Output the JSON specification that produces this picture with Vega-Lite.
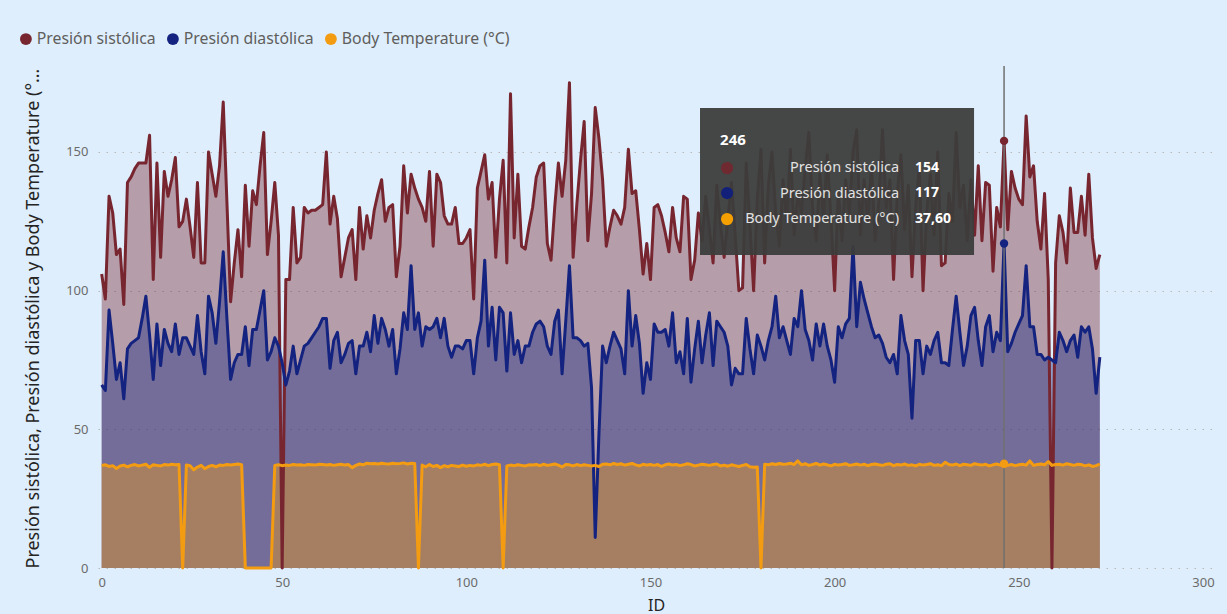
{
  "$schema": "https://vega.github.io/schema/vega-lite/v6.json",
  "width": 1116,
  "height": 502,
  "autosize": {"type": "none"},
  "padding": {"left": 98, "top": 66, "right": 13, "bottom": 46},
  "background": "#DEEEFC",
  "config": {
    "view": {"stroke": null},
    "font": "Noto Sans",
    "locale": {"number": {"decimal": ",", "thousands": ".", "grouping": [3], "currency": ["", " €"]}},
    "axis": {"domain": false, "ticks": false, "labelColor": "#6B6B6B", "labelFontSize": 13, "titleColor": "#252423", "titleFontWeight": "normal", "titleFontSize": 16},
    "axisY": {"grid": true, "gridColor": "#B8B8B8", "gridDash": [1.5, 6.5], "gridWidth": 1, "labelPadding": 10, "titlePadding": 23, "titleAnchor": "start", "titleLimit": 500, "titleFontSize": 18},
    "axisX": {"grid": false, "labelPadding": 8, "titlePadding": 8},
    "legend": {"orient": "none", "legendX": -80, "legendY": -35, "direction": "horizontal", "symbolType": "circle", "symbolSize": 140, "symbolOpacity": 1, "symbolStrokeWidth": 0, "labelFontSize": 15.8, "labelLimit": 400, "labelColor": "#605E5C", "labelOffset": 3, "columnPadding": 9, "title": null}
  },
  "datasets": {
    "vitals": [
      {"ID":1,"s":106,"d":66,"t":37.0},{"ID":2,"s":97,"d":64,"t":37.2},{"ID":3,"s":134,"d":93,"t":36.6},{"ID":4,"s":128,"d":81,"t":36.9},{"ID":5,"s":113,"d":68,"t":35.9},
      {"ID":6,"s":115,"d":74,"t":36.8},{"ID":7,"s":95,"d":61,"t":37.1},{"ID":8,"s":139,"d":79,"t":36.5},{"ID":9,"s":141,"d":81,"t":37.0},{"ID":10,"s":144,"d":82,"t":37.3},
      {"ID":11,"s":146,"d":83,"t":36.8},{"ID":12,"s":146,"d":90,"t":37.1},{"ID":13,"s":146,"d":98,"t":37.4},{"ID":14,"s":156,"d":84,"t":36.3},{"ID":15,"s":104,"d":68,"t":37.2},
      {"ID":16,"s":146,"d":88,"t":37.0},{"ID":17,"s":112,"d":73,"t":36.8},{"ID":18,"s":143,"d":86,"t":37.3},{"ID":19,"s":134,"d":81,"t":37.1},{"ID":20,"s":140,"d":78,"t":37.4},
      {"ID":21,"s":148,"d":88,"t":37.2},{"ID":22,"s":123,"d":77,"t":37.3},{"ID":23,"s":125,"d":83,"t":0},{"ID":24,"s":133,"d":83,"t":37.1},{"ID":25,"s":123,"d":80,"t":36.9},
      {"ID":26,"s":112,"d":77,"t":35.4},{"ID":27,"s":139,"d":91,"t":36.4},{"ID":28,"s":110,"d":78,"t":37.0},{"ID":29,"s":110,"d":70,"t":35.8},{"ID":30,"s":150,"d":98,"t":36.6},
      {"ID":31,"s":142,"d":92,"t":37.0},{"ID":32,"s":134,"d":81,"t":36.5},{"ID":33,"s":145,"d":96,"t":37.1},{"ID":34,"s":168,"d":114,"t":37.0},{"ID":35,"s":132,"d":90,"t":37.3},
      {"ID":36,"s":96,"d":68,"t":37.1},{"ID":37,"s":110,"d":74,"t":37.3},{"ID":38,"s":122,"d":77,"t":37.5},{"ID":39,"s":105,"d":77,"t":37.2},{"ID":40,"s":138,"d":87,"t":0},
      {"ID":41,"s":116,"d":73,"t":0},{"ID":42,"s":136,"d":86,"t":0},{"ID":43,"s":131,"d":86,"t":0},{"ID":44,"s":145,"d":93,"t":0},{"ID":45,"s":157,"d":100,"t":0},
      {"ID":46,"s":113,"d":75,"t":0},{"ID":47,"s":125,"d":78,"t":0},{"ID":48,"s":139,"d":83,"t":37.0},{"ID":49,"s":120,"d":80,"t":37.2},{"ID":50,"s":0,"d":74,"t":36.9},
      {"ID":51,"s":104,"d":66,"t":37.1},{"ID":52,"s":104,"d":71,"t":37.0},{"ID":53,"s":130,"d":80,"t":37.3},{"ID":54,"s":110,"d":70,"t":37.1},{"ID":55,"s":112,"d":75,"t":37.2},
      {"ID":56,"s":130,"d":80,"t":37.0},{"ID":57,"s":128,"d":81,"t":37.3},{"ID":58,"s":129,"d":83,"t":37.2},{"ID":59,"s":129,"d":85,"t":37.1},{"ID":60,"s":130,"d":87,"t":37.4},
      {"ID":61,"s":131,"d":90,"t":37.3},{"ID":62,"s":150,"d":90,"t":37.1},{"ID":63,"s":124,"d":72,"t":37.3},{"ID":64,"s":134,"d":82,"t":37.0},{"ID":65,"s":126,"d":85,"t":37.2},
      {"ID":66,"s":105,"d":74,"t":37.4},{"ID":67,"s":112,"d":77,"t":37.1},{"ID":68,"s":119,"d":81,"t":37.3},{"ID":69,"s":122,"d":82,"t":36.2},{"ID":70,"s":104,"d":70,"t":37.0},
      {"ID":71,"s":130,"d":80,"t":37.5},{"ID":72,"s":115,"d":80,"t":37.2},{"ID":73,"s":127,"d":85,"t":37.8},{"ID":74,"s":119,"d":78,"t":37.6},{"ID":75,"s":129,"d":91,"t":37.7},
      {"ID":76,"s":135,"d":81,"t":37.5},{"ID":77,"s":140,"d":90,"t":37.8},{"ID":78,"s":125,"d":86,"t":37.6},{"ID":79,"s":130,"d":80,"t":37.5},{"ID":80,"s":131,"d":86,"t":37.8},
      {"ID":81,"s":105,"d":70,"t":37.6},{"ID":82,"s":116,"d":79,"t":37.7},{"ID":83,"s":145,"d":92,"t":37.9},{"ID":84,"s":128,"d":86,"t":37.5},{"ID":85,"s":142,"d":109,"t":37.8},
      {"ID":86,"s":137,"d":86,"t":37.7},{"ID":87,"s":133,"d":92,"t":0},{"ID":88,"s":130,"d":80,"t":37.1},{"ID":89,"s":125,"d":87,"t":36.5},{"ID":90,"s":143,"d":86,"t":37.3},
      {"ID":91,"s":116,"d":87,"t":36.6},{"ID":92,"s":142,"d":90,"t":37.0},{"ID":93,"s":139,"d":83,"t":36.2},{"ID":94,"s":127,"d":90,"t":36.9},{"ID":95,"s":124,"d":80,"t":36.5},
      {"ID":96,"s":124,"d":76,"t":37.0},{"ID":97,"s":130,"d":80,"t":36.8},{"ID":98,"s":117,"d":80,"t":36.6},{"ID":99,"s":117,"d":79,"t":37.1},{"ID":100,"s":119,"d":82,"t":36.7},
      {"ID":101,"s":122,"d":82,"t":37.0},{"ID":102,"s":97,"d":70,"t":36.8},{"ID":103,"s":137,"d":83,"t":37.2},{"ID":104,"s":143,"d":89,"t":37.0},{"ID":105,"s":149,"d":111,"t":37.4},
      {"ID":106,"s":133,"d":80,"t":36.9},{"ID":107,"s":139,"d":94,"t":37.3},{"ID":108,"s":112,"d":75,"t":37.5},{"ID":109,"s":133,"d":94,"t":37.2},{"ID":110,"s":147,"d":92,"t":0},
      {"ID":111,"s":110,"d":71,"t":36.8},{"ID":112,"s":171,"d":92,"t":37.1},{"ID":113,"s":119,"d":77,"t":36.9},{"ID":114,"s":142,"d":82,"t":37.2},{"ID":115,"s":116,"d":74,"t":37.0},
      {"ID":116,"s":115,"d":80,"t":36.8},{"ID":117,"s":123,"d":80,"t":37.2},{"ID":118,"s":130,"d":85,"t":37.1},{"ID":119,"s":141,"d":88,"t":37.3},{"ID":120,"s":145,"d":89,"t":36.9},
      {"ID":121,"s":146,"d":87,"t":37.4},{"ID":122,"s":117,"d":80,"t":37.0},{"ID":123,"s":111,"d":77,"t":37.2},{"ID":124,"s":130,"d":89,"t":37.5},{"ID":125,"s":146,"d":93,"t":37.1},
      {"ID":126,"s":134,"d":70,"t":36.4},{"ID":127,"s":147,"d":89,"t":37.3},{"ID":128,"s":175,"d":109,"t":37.2},{"ID":129,"s":112,"d":83,"t":36.8},{"ID":130,"s":131,"d":83,"t":37.3},
      {"ID":131,"s":147,"d":82,"t":36.9},{"ID":132,"s":161,"d":80,"t":37.2},{"ID":133,"s":118,"d":81,"t":37.0},{"ID":134,"s":135,"d":65,"t":36.8},{"ID":135,"s":166,"d":11,"t":37.0},
      {"ID":136,"s":155,"d":48,"t":36.6},{"ID":137,"s":140,"d":80,"t":37.4},{"ID":138,"s":116,"d":74,"t":37.5},{"ID":139,"s":123,"d":80,"t":37.2},{"ID":140,"s":129,"d":85,"t":37.7},
      {"ID":141,"s":127,"d":82,"t":37.3},{"ID":142,"s":124,"d":79,"t":37.6},{"ID":143,"s":130,"d":70,"t":37.1},{"ID":144,"s":151,"d":100,"t":37.4},{"ID":145,"s":135,"d":80,"t":37.7},
      {"ID":146,"s":136,"d":91,"t":37.2},{"ID":147,"s":122,"d":81,"t":36.8},{"ID":148,"s":106,"d":63,"t":37.4},{"ID":149,"s":117,"d":74,"t":37.1},{"ID":150,"s":104,"d":68,"t":37.3},
      {"ID":151,"s":130,"d":88,"t":37.0},{"ID":152,"s":131,"d":85,"t":37.3},{"ID":153,"s":127,"d":85,"t":36.6},{"ID":154,"s":121,"d":86,"t":37.2},{"ID":155,"s":114,"d":80,"t":37.5},
      {"ID":156,"s":130,"d":92,"t":37.1},{"ID":157,"s":119,"d":74,"t":37.3},{"ID":158,"s":114,"d":78,"t":36.9},{"ID":159,"s":134,"d":70,"t":37.2},{"ID":160,"s":133,"d":90,"t":37.6},
      {"ID":161,"s":104,"d":67,"t":37.3},{"ID":162,"s":111,"d":79,"t":36.8},{"ID":163,"s":128,"d":89,"t":37.1},{"ID":164,"s":118,"d":74,"t":37.4},{"ID":165,"s":134,"d":84,"t":37.2},
      {"ID":166,"s":122,"d":92,"t":37.0},{"ID":167,"s":110,"d":73,"t":37.3},{"ID":168,"s":138,"d":89,"t":37.5},{"ID":169,"s":124,"d":87,"t":36.8},{"ID":170,"s":112,"d":85,"t":37.1},
      {"ID":171,"s":126,"d":80,"t":36.7},{"ID":172,"s":139,"d":66,"t":37.2},{"ID":173,"s":120,"d":72,"t":36.9},{"ID":174,"s":100,"d":70,"t":36.6},{"ID":175,"s":101,"d":70,"t":37.0},
      {"ID":176,"s":146,"d":90,"t":37.3},{"ID":177,"s":124,"d":79,"t":36.5},{"ID":178,"s":100,"d":70,"t":36.3},{"ID":179,"s":133,"d":84,"t":36.4},{"ID":180,"s":151,"d":80,"t":0},
      {"ID":181,"s":110,"d":75,"t":37.4},{"ID":182,"s":138,"d":82,"t":37.2},{"ID":183,"s":150,"d":87,"t":37.6},{"ID":184,"s":128,"d":98,"t":37.3},{"ID":185,"s":116,"d":83,"t":37.7},
      {"ID":186,"s":140,"d":87,"t":37.4},{"ID":187,"s":125,"d":82,"t":37.5},{"ID":188,"s":151,"d":77,"t":37.8},{"ID":189,"s":120,"d":90,"t":37.3},{"ID":190,"s":135,"d":87,"t":38.6},
      {"ID":191,"s":128,"d":100,"t":37.2},{"ID":192,"s":144,"d":86,"t":37.6},{"ID":193,"s":157,"d":82,"t":37.0},{"ID":194,"s":130,"d":75,"t":37.3},{"ID":195,"s":118,"d":88,"t":37.7},
      {"ID":196,"s":142,"d":80,"t":37.1},{"ID":197,"s":126,"d":88,"t":37.5},{"ID":198,"s":149,"d":80,"t":37.2},{"ID":199,"s":126,"d":75,"t":36.8},{"ID":200,"s":100,"d":67,"t":37.4},
      {"ID":201,"s":136,"d":87,"t":37.1},{"ID":202,"s":118,"d":83,"t":37.3},{"ID":203,"s":140,"d":88,"t":37.6},{"ID":204,"s":128,"d":90,"t":37.0},{"ID":205,"s":150,"d":116,"t":37.2},
      {"ID":206,"s":158,"d":87,"t":37.5},{"ID":207,"s":120,"d":103,"t":37.1},{"ID":208,"s":140,"d":97,"t":37.4},{"ID":209,"s":125,"d":92,"t":36.9},{"ID":210,"s":145,"d":87,"t":37.3},
      {"ID":211,"s":118,"d":83,"t":37.5},{"ID":212,"s":132,"d":84,"t":37.2},{"ID":213,"s":158,"d":81,"t":37.0},{"ID":214,"s":130,"d":76,"t":37.4},{"ID":215,"s":140,"d":74,"t":37.6},
      {"ID":216,"s":104,"d":77,"t":36.9},{"ID":217,"s":135,"d":70,"t":37.3},{"ID":218,"s":149,"d":91,"t":37.1},{"ID":219,"s":122,"d":82,"t":37.5},{"ID":220,"s":138,"d":77,"t":37.0},
      {"ID":221,"s":105,"d":54,"t":37.2},{"ID":222,"s":130,"d":82,"t":36.8},{"ID":223,"s":145,"d":82,"t":37.4},{"ID":224,"s":100,"d":70,"t":37.1},{"ID":225,"s":128,"d":80,"t":37.3},
      {"ID":226,"s":142,"d":77,"t":37.6},{"ID":227,"s":120,"d":82,"t":37.0},{"ID":228,"s":150,"d":85,"t":37.2},{"ID":229,"s":109,"d":74,"t":36.9},{"ID":230,"s":110,"d":74,"t":38.1},
      {"ID":231,"s":135,"d":73,"t":37.3},{"ID":232,"s":125,"d":86,"t":37.1},{"ID":233,"s":157,"d":98,"t":37.5},{"ID":234,"s":130,"d":85,"t":36.9},{"ID":235,"s":138,"d":73,"t":37.4},
      {"ID":236,"s":118,"d":80,"t":37.2},{"ID":237,"s":140,"d":91,"t":37.0},{"ID":238,"s":120,"d":94,"t":37.6},{"ID":239,"s":145,"d":82,"t":37.3},{"ID":240,"s":118,"d":73,"t":37.1},
      {"ID":241,"s":139,"d":87,"t":37.4},{"ID":242,"s":138,"d":91,"t":36.8},{"ID":243,"s":107,"d":78,"t":37.2},{"ID":244,"s":130,"d":85,"t":37.5},{"ID":245,"s":123,"d":82,"t":37.1},
      {"ID":246,"s":154,"d":117,"t":37.6},{"ID":247,"s":122,"d":78,"t":37.0},{"ID":248,"s":143,"d":81,"t":37.3},{"ID":249,"s":137,"d":85,"t":36.9},{"ID":250,"s":133,"d":88,"t":37.2},
      {"ID":251,"s":131,"d":91,"t":37.4},{"ID":252,"s":163,"d":109,"t":37.1},{"ID":253,"s":141,"d":87,"t":38.6},{"ID":254,"s":145,"d":87,"t":37.0},{"ID":255,"s":125,"d":77,"t":37.3},
      {"ID":256,"s":115,"d":77,"t":37.5},{"ID":257,"s":135,"d":75,"t":37.2},{"ID":258,"s":104,"d":76,"t":38.4},{"ID":259,"s":0,"d":75,"t":37.0},{"ID":260,"s":110,"d":74,"t":37.3},
      {"ID":261,"s":127,"d":85,"t":37.4},{"ID":262,"s":121,"d":82,"t":37.1},{"ID":263,"s":110,"d":78,"t":37.6},{"ID":264,"s":137,"d":82,"t":37.3},{"ID":265,"s":121,"d":84,"t":37.0},
      {"ID":266,"s":121,"d":76,"t":37.4},{"ID":267,"s":134,"d":87,"t":37.3},{"ID":268,"s":120,"d":85,"t":36.8},{"ID":269,"s":142,"d":87,"t":37.2},{"ID":270,"s":119,"d":79,"t":36.6},
      {"ID":271,"s":108,"d":63,"t":36.9},{"ID":272,"s":113,"d":76,"t":37.5}
    ]
  },
  "data": {"name": "vitals"},
  "encoding": {
    "x": {"field": "ID", "type": "quantitative", "scale": {"domain": [0, 303], "nice": false, "zero": false}, "axis": {"values": [0, 50, 100, 150, 200, 250, 300], "title": "ID"}}
  },
  "layer": [
    {
      "mark": {"type": "area", "opacity": 0.4},
      "encoding": {
        "y": {"field": "s", "type": "quantitative", "scale": {"domain": [0, 181], "nice": false}, "axis": {"values": [0, 50, 100, 150], "title": "Presión sistólica, Presión diastólica y Body Temperature (°C)"}},
        "color": {"datum": "Presión sistólica", "scale": {"domain": ["Presión sistólica", "Presión diastólica", "Body Temperature (°C)"], "range": ["#772630", "#13237F", "#F39C12"]}}
      }
    },
    {
      "mark": {"type": "area", "opacity": 0.4},
      "encoding": {
        "y": {"field": "d", "type": "quantitative", "axis": {"title": "Presión sistólica, Presión diastólica y Body Temperature (°C)"}},
        "color": {"datum": "Presión diastólica"}
      }
    },
    {
      "mark": {"type": "area", "opacity": 0.4},
      "encoding": {
        "y": {"field": "t", "type": "quantitative", "axis": {"title": "Presión sistólica, Presión diastólica y Body Temperature (°C)"}},
        "color": {"datum": "Body Temperature (°C)"}
      }
    },
    {
      "mark": {"type": "line", "color": "#772630", "strokeWidth": 3, "strokeJoin": "round"},
      "encoding": {"y": {"field": "s", "type": "quantitative", "axis": {"title": "Presión sistólica, Presión diastólica y Body Temperature (°C)"}}}
    },
    {
      "mark": {"type": "line", "color": "#13237F", "strokeWidth": 3, "strokeJoin": "round"},
      "encoding": {"y": {"field": "d", "type": "quantitative", "axis": {"title": "Presión sistólica, Presión diastólica y Body Temperature (°C)"}}}
    },
    {
      "mark": {"type": "line", "color": "#F39C12", "strokeWidth": 3, "strokeJoin": "round"},
      "encoding": {"y": {"field": "t", "type": "quantitative", "axis": {"title": "Presión sistólica, Presión diastólica y Body Temperature (°C)"}}}
    },
    {
      "transform": [{"filter": "datum.ID == 246"}],
      "mark": {"type": "rule", "color": "#707070", "strokeWidth": 1.5},
      "encoding": {}
    },
    {
      "transform": [{"filter": "datum.ID == 246"}],
      "mark": {"type": "point", "filled": true, "opacity": 1, "size": 70, "color": "#772630"},
      "encoding": {"y": {"field": "s", "type": "quantitative", "axis": {"title": "Presión sistólica, Presión diastólica y Body Temperature (°C)"}}}
    },
    {
      "transform": [{"filter": "datum.ID == 246"}],
      "mark": {"type": "point", "filled": true, "opacity": 1, "size": 70, "color": "#13237F"},
      "encoding": {"y": {"field": "d", "type": "quantitative", "axis": {"title": "Presión sistólica, Presión diastólica y Body Temperature (°C)"}}}
    },
    {
      "transform": [{"filter": "datum.ID == 246"}],
      "mark": {"type": "point", "filled": true, "opacity": 1, "size": 70, "color": "#F39C12"},
      "encoding": {"y": {"field": "t", "type": "quantitative", "axis": {"title": "Presión sistólica, Presión diastólica y Body Temperature (°C)"}}}
    },
    {
      "transform": [{"filter": "datum.ID == 246"}],
      "mark": {"type": "rect", "fill": "#3C3D3C", "opacity": 0.94},
      "encoding": {"x": {"datum": 163.45, "type": "quantitative"}, "x2": {"datum": 237.85}, "y": {"datum": 165.86, "type": "quantitative"}, "y2": {"datum": 112.85}}
    },
    {
      "transform": [{"filter": "datum.ID == 246"}],
      "mark": {"type": "text", "align": "left", "baseline": "middle", "fontSize": 15, "fontWeight": "bold", "color": "#FFFFFF"},
      "encoding": {"x": {"datum": 168.9, "type": "quantitative"}, "y": {"datum": 154.3, "type": "quantitative"}, "text": {"field": "ID", "type": "quantitative"}}
    },
    {
      "transform": [{"filter": "datum.ID == 246"}],
      "mark": {"type": "point", "filled": true, "opacity": 1, "size": 150, "color": "#6E2A30"},
      "encoding": {"x": {"datum": 170.8, "type": "quantitative"}, "y": {"datum": 144.2, "type": "quantitative"}}
    },
    {
      "transform": [{"filter": "datum.ID == 246"}],
      "mark": {"type": "point", "filled": true, "opacity": 1, "size": 150, "color": "#13207A"},
      "encoding": {"x": {"datum": 170.8, "type": "quantitative"}, "y": {"datum": 135.2, "type": "quantitative"}}
    },
    {
      "transform": [{"filter": "datum.ID == 246"}],
      "mark": {"type": "point", "filled": true, "opacity": 1, "size": 150, "color": "#F5A000"},
      "encoding": {"x": {"datum": 170.8, "type": "quantitative"}, "y": {"datum": 125.8, "type": "quantitative"}}
    },
    {
      "transform": [{"filter": "datum.ID == 246"}],
      "mark": {"type": "text", "align": "right", "baseline": "middle", "fontSize": 14.5, "color": "#E2E2E2", "lineHeight": 25.5},
      "encoding": {"x": {"datum": 217.5, "type": "quantitative"}, "y": {"datum": 144.2, "type": "quantitative"}, "text": {"value": ["Presión sistólica", "Presión diastólica", "Body Temperature (°C)"]}}
    },
    {
      "transform": [{"filter": "datum.ID == 246"}],
      "mark": {"type": "text", "align": "left", "baseline": "middle", "fontSize": 14, "fontWeight": "bold", "color": "#FFFFFF"},
      "encoding": {"x": {"datum": 221.8, "type": "quantitative"}, "y": {"datum": 144.2, "type": "quantitative"}, "text": {"field": "s", "type": "quantitative", "format": "d"}}
    },
    {
      "transform": [{"filter": "datum.ID == 246"}],
      "mark": {"type": "text", "align": "left", "baseline": "middle", "fontSize": 14, "fontWeight": "bold", "color": "#FFFFFF"},
      "encoding": {"x": {"datum": 221.8, "type": "quantitative"}, "y": {"datum": 135.2, "type": "quantitative"}, "text": {"field": "d", "type": "quantitative", "format": "d"}}
    },
    {
      "transform": [{"filter": "datum.ID == 246"}],
      "mark": {"type": "text", "align": "left", "baseline": "middle", "fontSize": 14, "fontWeight": "bold", "color": "#FFFFFF"},
      "encoding": {"x": {"datum": 221.8, "type": "quantitative"}, "y": {"datum": 125.8, "type": "quantitative"}, "text": {"field": "t", "type": "quantitative", "format": ".2f"}}
    }
  ]
}
